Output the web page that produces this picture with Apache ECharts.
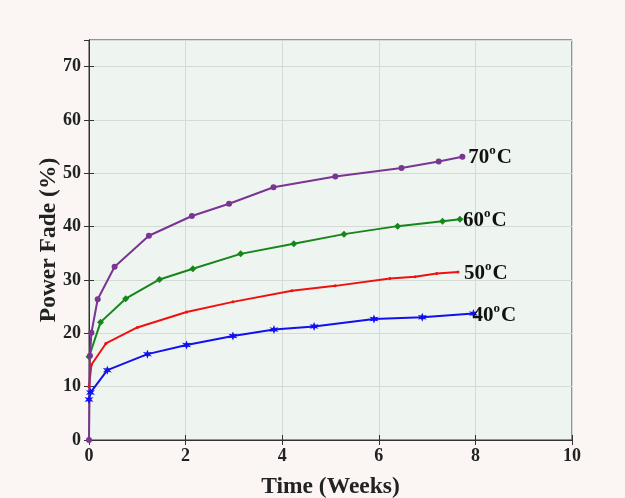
<!DOCTYPE html>
<html>
<head>
<meta charset="utf-8">
<script src="https://cdn.jsdelivr.net/npm/echarts@6/dist/echarts.min.js"></script>
<style>
  html, body { margin: 0; padding: 0; background: #fbf6f4; }
  #chart { width: 625px; height: 498px; }
</style>
</head>
<body>
<div id="chart"></div>
<script>
// Power fade (%) versus storage time (weeks) at four temperatures
const temps = [40, 50, 60, 70];

const time40 = [0, 0.03, 0.38, 1.21, 2.02, 2.98, 3.83, 4.66, 5.9, 6.9, 7.96];
const fade40 = [7.6, 8.9, 13.1, 16.1, 17.8, 19.5, 20.7, 21.3, 22.7, 23.0, 23.7];

const time50 = [0, 0.05, 0.35, 1.0, 2.02, 2.98, 4.2, 5.1, 6.23, 6.75, 7.2, 7.64];
const fade50 = [10.0, 14.1, 18.1, 21.1, 24.0, 25.9, 28.0, 28.9, 30.3, 30.6, 31.2, 31.5];

const time60 = [0, 0.24, 0.76, 1.46, 2.15, 3.14, 4.24, 5.28, 6.39, 7.32, 7.68];
const fade60 = [15.6, 22.1, 26.5, 30.1, 32.1, 34.9, 36.8, 38.6, 40.1, 41.0, 41.4];

const time70 = [0, 0.02, 0.05, 0.18, 0.53, 1.24, 2.13, 2.9, 3.82, 5.1, 6.47, 7.24, 7.73];
const fade70 = [0, 15.8, 20.1, 26.4, 32.5, 38.3, 42.0, 44.3, 47.4, 49.4, 51.0, 52.2, 53.1];

const xTicks = [0, 2, 4, 6, 8, 10];
const yTicks = [0, 10, 20, 30, 40, 50, 60, 70];

const serif = '"Liberation Serif", "DejaVu Serif", serif';

const pairs = (xs, ys) => xs.map((x, i) => [x, ys[i]]);

const star6 = 'path://M0,-10 L2.2,-3.8 L8.7,-5 L4.4,0 L8.7,5 L2.2,3.8 L0,10 L-2.2,3.8 L-8.7,5 L-4.4,0 L-8.7,-5 L-2.2,-3.8 Z';

function makeSeries(temp, xs, ys, color, symbol, size, labelOffset) {
  return {
    type: 'line',
    name: temp + '°C',
    data: pairs(xs, ys),
    xAxisIndex: 0,
    yAxisIndex: 0,
    symbol: symbol,
    symbolSize: size,
    showAllSymbol: true,
    lineStyle: { color: color, width: 2 },
    itemStyle: { color: color },
    z: 3,
    endLabel: {
      show: true,
      distance: 2,
      formatter: '{n|' + temp + '}{s|o}{n|C}',
      offset: labelOffset,
      rich: {
        n: { fontFamily: serif, fontWeight: 'bold', fontSize: 21, color: '#111' },
        s: { fontFamily: serif, fontWeight: 'bold', fontSize: 13, color: '#111', padding: [0, 1, 14, 0] }
      }
    },
    emphasis: { disabled: true },
    animation: false
  };
}

const chart = echarts.init(document.getElementById('chart'), null, { renderer: 'canvas' });

const axisText = { fontFamily: serif, fontWeight: 'bold', fontSize: 18, color: '#222' };

chart.setOption({
  backgroundColor: '#fbf6f4',
  animation: false,
  grid: {
    left: 89, right: 53, top: 40, bottom: 58,
    outerBoundsMode: 'none',
    show: true,
    backgroundColor: '#eef5f0',
    borderColor: '#333',
    borderWidth: 1
  },
  xAxis: [{
    type: 'value',
    min: xTicks[0], max: xTicks[xTicks.length - 1], interval: 2,
    position: 'bottom',
    name: 'Time (Weeks)',
    nameLocation: 'middle',
    nameGap: 35,
    nameMoveOverlap: false,
    nameTextStyle: { fontFamily: serif, fontWeight: 'bold', fontSize: 23.5, color: '#222' },
    axisLine: { show: true, lineStyle: { color: '#333' } },
    axisTick: { show: true, inside: true, length: 5, lineStyle: { color: '#333' } },
    axisLabel: Object.assign({ margin: 7 }, axisText),
    splitLine: { show: true, lineStyle: { color: '#d4dad6', width: 1 } }
  }, {
    type: 'value',
    min: xTicks[0], max: xTicks[xTicks.length - 1], interval: 2,
    position: 'top',
    axisLine: { show: true, lineStyle: { color: '#333' } },
    axisTick: { show: true, inside: true, length: 5, lineStyle: { color: '#333' } },
    axisLabel: { show: false },
    splitLine: { show: false }
  }],
  yAxis: [{
    type: 'value',
    min: yTicks[0], max: 75, interval: 10,
    position: 'left',
    name: 'Power Fade (%)',
    nameLocation: 'middle',
    nameGap: 28,
    nameMoveOverlap: false,
    nameTextStyle: { fontFamily: serif, fontWeight: 'bold', fontSize: 23.5, color: '#222' },
    axisLine: { show: true, lineStyle: { color: '#333' } },
    axisTick: { show: true, inside: true, length: 5, lineStyle: { color: '#333' } },
    axisLabel: Object.assign({ margin: 8, showMaxLabel: false }, axisText),
    splitLine: { show: true, lineStyle: { color: '#d4dad6', width: 1 } }
  }, {
    type: 'value',
    min: yTicks[0], max: 75, interval: 10,
    position: 'right',
    axisLine: { show: true, lineStyle: { color: '#333' } },
    axisTick: { show: true, inside: true, length: 5, lineStyle: { color: '#333' } },
    axisLabel: { show: false },
    splitLine: { show: false }
  }],
  series: [
    makeSeries(temps[0], time40, fade40, '#1010f0', star6, 9, [-3, 2]),
    makeSeries(temps[1], time50, fade50, '#f01010', 'circle', 3, [4, 2]),
    makeSeries(temps[2], time60, fade60, '#16861a', 'diamond', 7, [1, 1]),
    makeSeries(temps[3], time70, fade70, '#7a3592', 'circle', 6, [4, 1])
  ]
});
</script>
</body>
</html>
